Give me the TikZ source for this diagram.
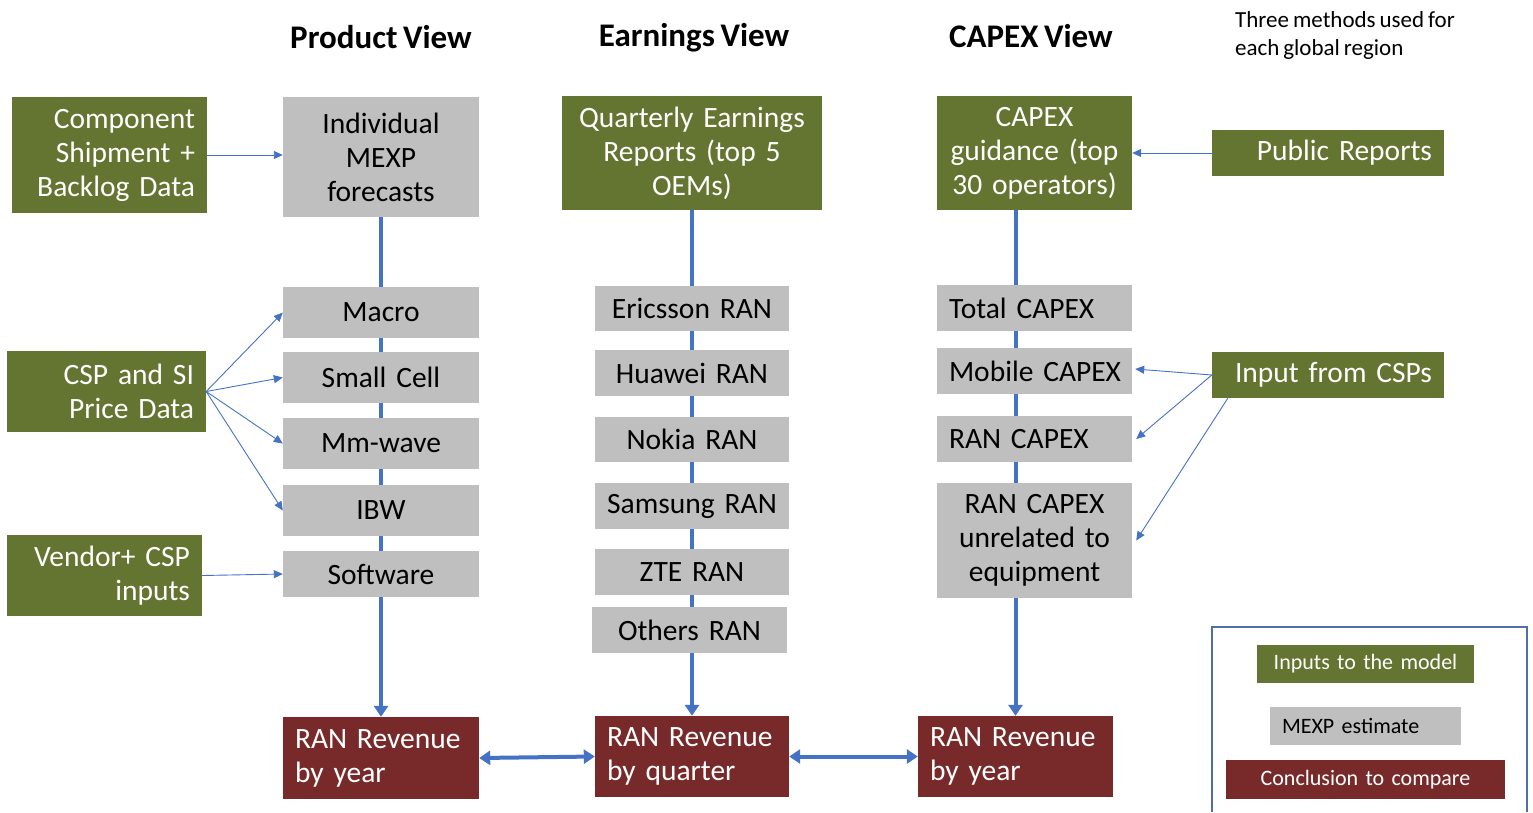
\documentclass[tikz,border=0pt]{standalone}
\usepackage{fontspec}
\setmainfont{Carlito}[WordSpace={0.75}]
\usetikzlibrary{arrows.meta,calc}
\pgfdeclarelayer{bg}
\pgfsetlayers{bg,main}
\definecolor{cgreen}{RGB}{99,117,49}
\definecolor{cgray}{RGB}{191,191,191}
\definecolor{cred}{RGB}{120,42,42}
\definecolor{cblue}{RGB}{68,114,196}
\definecolor{cframe}{RGB}{79,110,170}
\tikzset{
  boxbase/.style={rectangle,inner sep=0pt,font=\fontsize{29.5}{34}\selectfont},
  greenbox/.style={boxbase,fill=cgreen,text=white},
  graybox/.style={boxbase,fill=cgray,text=black},
  redbox/.style={boxbase,fill=cred,text=white},
  legtext/.style={font=\fontsize{22}{26}\selectfont},
  thickarrow/.style={cblue,line width=4pt,-{Triangle[length=11pt,width=14pt]}},
  dblarrow/.style={cblue,line width=4pt,{Triangle[length=11pt,width=14pt]}-{Triangle[length=11pt,width=14pt]}},
  thinarrow/.style={cblue,line width=0.9pt,-{Triangle[length=9pt,width=8pt]}},
  header/.style={font=\fontsize{33}{36}\selectfont\bfseries}
}
% \mybox{style}{name}{x1}{y1}{x2}{y2}{text}
\newcommand\mybox[7]{%
  \pgfmathsetmacro\mytw{#5-#3-24}%
  \pgfmathsetmacro\mybw{#5-#3}%
  \pgfmathsetmacro\mybh{#6-#4}%
  \pgfmathsetmacro\mycx{(#3+#5)/2}%
  \pgfmathsetmacro\mycy{(#4+#6)/2}%
  \node[#1,text width=\mytw pt,minimum width=\mybw pt,minimum height=\mybh pt] (#2) at (\mycx,\mycy) {#7};%
}
\begin{document}
\begin{tikzpicture}[x=1pt,y=-1pt]
\useasboundingbox (0,0) rectangle (1533,812);
% headers
\node[header] (h1) at (381,37) {Product View};
\node[header] (h2) at (694,38) {Earnings View};
\node[header] (h3) at (1031,36) {CAPEX View};
\node[anchor=north west,align=left,font=\fontsize{23}{28}\selectfont,inner sep=0pt] (note) at (1235,11) {Three methods used for\\each global region};
% product view
\mybox{greenbox,align=right}{comp}{12}{97}{207}{213}{Component\\Shipment +\\Backlog Data}
\mybox{graybox,align=center}{ind}{283}{97}{479}{217}{Individual\\MEXP\\forecasts}
\mybox{graybox,align=center}{macro}{283}{287}{479}{338}{Macro}
\mybox{graybox,align=center}{small}{283}{352}{479}{403}{Small Cell}
\mybox{graybox,align=center}{mm}{283}{418}{479}{469}{Mm-wave}
\mybox{graybox,align=center}{ibw}{283}{485}{479}{536}{IBW}
\mybox{graybox,align=center}{soft}{283}{551}{479}{597}{Software}
\mybox{greenbox,align=right}{csp}{7}{351}{206}{432}{CSP and SI\\Price Data}
\mybox{greenbox,align=right}{vend}{7}{535}{202}{616}{Vendor+ CSP\\inputs}
\mybox{redbox,align=left}{rl}{283}{717}{479}{799}{RAN Revenue\\by year}
% earnings view
\mybox{greenbox,align=center}{qe}{562}{96}{822}{210}{Quarterly Earnings\\Reports (top 5\\OEMs)}
\mybox{graybox,align=center}{eri}{595}{286}{789}{331}{Ericsson RAN}
\mybox{graybox,align=center}{hua}{595}{350}{789}{396}{Huawei RAN}
\mybox{graybox,align=center}{nok}{595}{417}{789}{462}{Nokia RAN}
\mybox{graybox,align=center}{sam}{595}{483}{789}{529}{Samsung RAN}
\mybox{graybox,align=center}{zte}{595}{549}{789}{595}{ZTE RAN}
\mybox{graybox,align=center}{oth}{592}{607}{787}{653}{Others RAN}
\mybox{redbox,align=left}{rq}{595}{716}{789}{797}{RAN Revenue\\by quarter}
% capex view
\mybox{greenbox,align=center}{cg}{937}{96}{1132}{210}{CAPEX\\guidance (top\\30 operators)}
\mybox{greenbox,align=right}{pub}{1212}{130}{1444}{176}{Public Reports}
\mybox{graybox,align=left}{tot}{937}{285}{1132}{331}{Total CAPEX}
\mybox{graybox,align=left}{mob}{937}{348}{1132}{394}{Mobile~CAPEX}
\mybox{graybox,align=left}{ranc}{937}{416}{1132}{462}{RAN CAPEX}
\mybox{graybox,align=center}{unrel}{937}{483}{1132}{598}{RAN CAPEX\\unrelated to\\equipment}
\mybox{greenbox,align=right}{icsp}{1212}{352}{1444}{398}{Input from CSPs}
\mybox{redbox,align=left}{rr}{918}{716}{1113}{797}{RAN Revenue\\by year}
% legend
\draw[cframe,line width=1.5pt] (1212,812) -- (1212,627) -- (1527,627) -- (1527,812);
\mybox{greenbox,align=center,legtext}{leg1}{1257}{645}{1474}{683}{Inputs to the model}
\mybox{graybox,align=left,legtext}{leg2}{1270}{707}{1461}{745}{MEXP estimate}
\mybox{redbox,align=center,legtext}{leg3}{1226}{760}{1505}{799}{Conclusion to compare}
% connectors
\begin{pgfonlayer}{bg}
\draw[thickarrow] (ind.south) -- (rl.north);
\draw[thickarrow] (qe.south) -- (rq.north);
\draw[thickarrow] (cg.south -| rr.north) -- (rr.north);
\end{pgfonlayer}
\draw[dblarrow] (rl.east) -- (rq.west);
\draw[dblarrow] (rq.east) -- (rr.west);
\draw[thinarrow] (comp.east) -- (ind.west |- comp.east);
\draw[thinarrow] (pub.west) -- (cg.east |- pub.west);
\draw[thinarrow] (csp.east) -- (macro.west);
\draw[thinarrow] (csp.east) -- (small.west);
\draw[thinarrow] (csp.east) -- (mm.west);
\draw[thinarrow] (csp.east) -- (ibw.west);
\draw[thinarrow] (vend.east) -- (soft.west);
\draw[thinarrow] (icsp.west) -- ($(mob.east)+(3,-2)$);
\draw[thinarrow] (icsp.west) -- ($(ranc.east)+(4,0)$);
\draw[thinarrow] ($(icsp.south west)+(16,0)$) -- ($(unrel.east)+(4,0)$);
\end{tikzpicture}
\end{document}
